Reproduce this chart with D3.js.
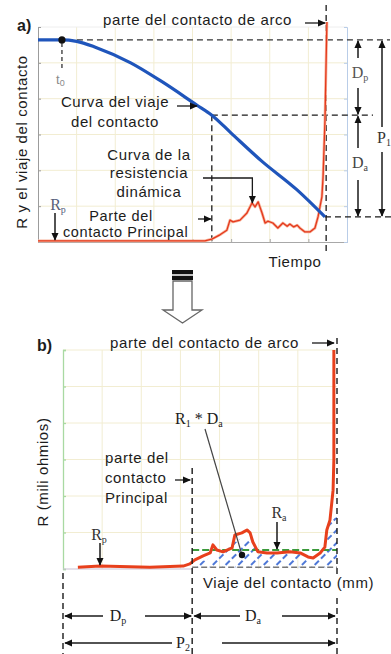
<!DOCTYPE html>
<html><head><meta charset="utf-8">
<script src="https://cdn.jsdelivr.net/npm/d3@7"></script>
<style>
body{margin:0;background:#fff}
svg{display:block}
text{font-family:"Liberation Sans",Arial,sans-serif;fill:#1c1c1c}
.lab{font-size:15px;letter-spacing:0.6px}
.ser{font-family:"Liberation Serif","DejaVu Serif",serif;font-size:16px}
</style>
</head><body>
<svg id="c" width="391" height="654"></svg>
<script>
// ---------- DATA ----------
// panel a) : contact travel curve vs time
const travelT = [0, 0.6, 1.0, 1.5, 2.4, 3.2, 4.1, 4.5, 5.0, 5.8, 6.7, 7.43];
const travelV = [5.64, 5.64, 5.6, 5.43, 5.0, 4.48, 3.83, 3.54, 3.04, 2.25, 1.46, 0.70];
// panel a) : dynamic resistance vs time
const resTopT = [0, 1.6, 4.32, 4.5, 4.71, 4.89, 4.97, 5.05, 5.23, 5.41, 5.54, 5.62, 5.70, 5.80, 5.88, 5.95, 6.08, 6.21, 6.34, 6.45, 6.52, 6.62, 6.71, 6.78, 6.91, 7.04, 7.17, 7.25, 7.35, 7.38, 7.43, 7.46, 7.48];
const resTopV = [0.03, 0.03, 0.03, 0.08, 0.20, 0.33, 0.61, 0.56, 0.61, 0.81, 1.09, 0.98, 1.12, 0.81, 0.53, 0.58, 0.53, 0.39, 0.53, 0.44, 0.50, 0.42, 0.47, 0.39, 0.28, 0.28, 0.39, 0.70, 1.26, 1.81, 3.4, 5.08, 6.14];
const t0 = 0.62, tSep = 4.5, tArc = 7.46;
const travelStart = 5.64, travelSep = 3.54, travelEnd = 0.70;
const topGridX = [0,1,2,3,4,5,6,7,8];
const topGridY = [0,1,2,3,4,5,6];
// panel b) : resistance vs contact travel
const resBX = [0.38, 0.95, 2.22, 3.07, 3.24, 3.37, 3.58, 3.76, 3.83, 3.93, 4.09, 4.32, 4.39, 4.57, 4.70, 4.78, 4.85, 4.98, 5.21, 5.47, 5.80, 6.06, 6.26, 6.39, 6.57, 6.69, 6.74, 6.82, 6.90, 6.92, 6.92];
const resBV = [0.05, 0.08, 0.05, 0.08, 0.14, 0.25, 0.36, 0.44, 0.66, 0.52, 0.47, 0.58, 0.93, 0.99, 1.07, 0.99, 0.74, 0.47, 0.44, 0.44, 0.47, 0.44, 0.33, 0.30, 0.44, 0.60, 1.07, 1.34, 2.16, 2.99, 6.0];
const hatchX = [3.30, 3.76, 4.34, 4.73, 4.83, 4.98, 5.21, 6.06, 6.23, 6.39, 6.62, 6.69, 6.74, 7.0];
const hatchV = [0.11, 0.30, 0.71, 0.93, 0.85, 0.52, 0.44, 0.41, 0.30, 0.19, 0.38, 0.66, 1.34, 1.42];
const hatchBase = 0.05, raLevel = 0.52, xSep = 3.3, xArc = 7.0;
const botGridX = [0,1,2,3,4,5,6,7];
const botGridY = [0,1,2,3,4,5,6];

// ---------- SETUP ----------
const svg = d3.select('#c');
const defs = svg.append('defs');
defs.append('marker').attr('id','ah').attr('viewBox','0 0 10 10').attr('refX',9).attr('refY',5)
  .attr('markerUnits','userSpaceOnUse').attr('markerWidth',8).attr('markerHeight',8).attr('orient','auto')
  .append('path').attr('d','M0,0.5 L10,5 L0,9.5 z').attr('fill','#111');
const pat = defs.append('pattern').attr('id','hatch').attr('patternUnits','userSpaceOnUse')
  .attr('width',9).attr('height',9).attr('patternTransform','rotate(45)');
pat.append('line').attr('x1',1).attr('y1',0).attr('x2',1).attr('y2',9)
  .attr('stroke','#2d5fd0').attr('stroke-width',1.7).attr('stroke-dasharray','6,3');

const xT = d3.scaleLinear([0,8],[38,347]);
const yT = d3.scaleLinear([0,6],[242,27]);
const xB = d3.scaleLinear([0,7],[63,337]);
const yB = d3.scaleLinear([0,6],[569,350]);

function line(g,x1,y1,x2,y2,o={}){
  const l=g.append('line').attr('x1',x1).attr('y1',y1).attr('x2',x2).attr('y2',y2)
   .attr('stroke',o.c||'#1a1a1a').attr('stroke-width',o.w||1.3);
  if(o.dash) l.attr('stroke-dasharray',o.dash);
  if(o.arrow) l.attr('marker-end','url(#ah)');
  return l;
}
const DASH='6,4';
function txt(g,x,y,s,o={}){
  const t=g.append('text').attr('x',x).attr('y',y).attr('class',o.cls||'lab')
    .attr('text-anchor',o.anchor||'start').text(s);
  if(o.size) t.style('font-size',o.size+'px');
  return t;
}
function subLabel(g,x,y,parts,o={}){
  const t=g.append('text').attr('x',x).attr('y',y).attr('class','ser').attr('text-anchor',o.anchor||'middle');
  if(o.fill) t.style('fill',o.fill);
  let prevSub=false;
  parts.forEach(([s,isSub])=>{
    const ts=t.append('tspan').text(s);
    if(isSub){ts.attr('font-size',10).attr('dy',prevSub?0:3);}
    else {ts.attr('dy',prevSub?-3:0);}
    prevSub=isSub;
  });
  return t;
}

// ---------- PANEL a ----------
const A = svg.append('g');
A.append('g').selectAll('line').data(topGridX.slice(1,-1)).join('line')
  .attr('x1',d=>xT(d)).attr('x2',d=>xT(d)).attr('y1',yT(6)).attr('y2',yT(0)).attr('stroke','#f2edd2');
A.append('g').selectAll('line').data(topGridY.slice(1,-1)).join('line')
  .attr('y1',d=>yT(d)).attr('y2',d=>yT(d)).attr('x1',xT(0)).attr('x2',xT(8)).attr('stroke','#f2edd2');
line(A,xT(0),yT(6),xT(8),yT(6),{c:'#eeeeee',w:1});
A.append('g').attr('transform',`translate(${xT(0)},0)`)
  .call(d3.axisLeft(yT).tickValues(topGridY).tickSize(-3).tickFormat(''))
  .call(g=>{g.selectAll('path,line').attr('stroke','#9c9c9c');});
A.append('g').attr('transform',`translate(0,${yT(0)})`)
  .call(d3.axisBottom(xT).tickValues(topGridX).tickSize(-3).tickFormat(''))
  .call(g=>{g.selectAll('path,line').attr('stroke','#a8a8a8');});
A.append('g').attr('transform',`translate(${xT(8)},0)`)
  .call(d3.axisRight(yT).tickValues(topGridY).tickSize(-3).tickFormat(''))
  .call(g=>{g.selectAll('path,line').attr('stroke','#b9cde8');});

// dashed guides
line(A,xT(t0)+5,yT(travelStart),390,yT(travelStart),{dash:DASH,c:'#333'});
line(A,xT(t0),yT(travelStart)+3,xT(t0),68,{dash:'4,3',c:'#333'});
line(A,xT(tSep),yT(travelSep),373,yT(travelSep),{dash:DASH});
line(A,xT(tSep),yT(travelSep),xT(tSep),yT(0),{dash:DASH});
line(A,xT(7.43),yT(travelEnd),391,yT(travelEnd),{dash:DASH});
line(A,xT(tArc),5,xT(tArc),251,{dash:DASH});

// resistance curve (top)
const resTop = resTopT.map((t,i)=>[t,resTopV[i]]);
const lT = d3.line().x(d=>xT(d[0])).y(d=>yT(d[1]));
A.append('path').attr('d',lT(resTop)).attr('fill','none').attr('stroke','#f7b29a').attr('stroke-width',2.8).attr('stroke-linejoin','round');
A.append('path').attr('d',lT(resTop)).attr('fill','none').attr('stroke','#e4381c').attr('stroke-width',1.3).attr('stroke-linejoin','round');
// travel curve
const travel = travelT.map((t,i)=>[t,travelV[i]]);
A.append('path').attr('d',d3.line().x(d=>xT(d[0])).y(d=>yT(d[1])).curve(d3.curveMonotoneX)(travel)).attr('fill','none')
  .attr('stroke','#1f55bb').attr('stroke-width',3.2);
A.append('circle').attr('cx',xT(t0)).attr('cy',yT(travelStart)).attr('r',3.6).attr('fill','#111');

// texts
A.append('text').attr('x',17).attr('y',31).attr('font-size',16).attr('font-weight','bold').text('a)');
txt(A,103,25,'parte del contacto de arco');
line(A,305,23,xT(tArc)-1,23,{arrow:true});
A.append('text').attr('class','lab').attr('transform','translate(27,142) rotate(-90)')
  .attr('text-anchor','middle').text('R y el viaje del contacto');
A.append('text').attr('x',56).attr('y',84).attr('font-size',13).style('fill','#8a8a8a').text('t')
  .append('tspan').attr('font-size',9).attr('dy',2).text('0');
txt(A,115,107,'Curva del viaje',{anchor:'middle'});
txt(A,115,127,'del contacto',{anchor:'middle'});
line(A,177,106,197,106,{arrow:true});
txt(A,149,160,'Curva de la',{anchor:'middle'});
txt(A,149,178,'resistencia',{anchor:'middle'});
txt(A,149,197,'dinámica',{anchor:'middle'});
A.append('polyline').attr('points',`203,178 ${xT(5.55)},178 ${xT(5.55)},203`).attr('fill','none')
  .attr('stroke','#1a1a1a').attr('stroke-width',1.3).attr('marker-end','url(#ah)');
txt(A,121,221,'Parte del',{anchor:'middle',size:14.5});
txt(A,63,237,'contacto Principal',{size:14.5});
line(A,198,219,xT(tSep)-1,219,{arrow:true});
subLabel(A,58,210,[['R',false],['p',true]],{fill:'#56607a'});
line(A,55,213,55,240,{arrow:true,w:1.5});
txt(A,295,267,'Tiempo',{anchor:'middle'});

// Dp / Da / P1 arrows
subLabel(A,360,78,[['D',false],['p',true]],{fill:'#555'});
line(A,358,58,358,yT(travelStart)+1,{arrow:true,w:1.5});
line(A,358,88,358,yT(travelSep)-1,{arrow:true,w:1.5});
subLabel(A,360,168,[['D',false],['a',true]],{fill:'#444'});
line(A,358,148,358,yT(travelSep)+1,{arrow:true,w:1.5});
line(A,358,180,358,yT(travelEnd)-1,{arrow:true,w:1.5});
subLabel(A,384,143,[['P',false],['1',true]],{fill:'#333'});
line(A,382,127,382,yT(travelStart)+1,{arrow:true,w:1.5});
line(A,382,152,382,yT(travelEnd)-1,{arrow:true,w:1.5});

// ---------- block arrow ----------
const BA = svg.append('g');
BA.append('rect').attr('x',172).attr('y',270).attr('width',21).attr('height',10).attr('fill','#111');
BA.append('line').attr('x1',172).attr('x2',193).attr('y1',275).attr('y2',275).attr('stroke','#fff').attr('stroke-width',1.5);
BA.append('path').attr('d','M173,281 L192,281 L192,310 L202,310 L182.5,323 L163,310 L173,310 Z')
  .attr('fill','#fff').attr('stroke','#666').attr('stroke-width',1.3);

// ---------- PANEL b ----------
const B = svg.append('g');
B.append('g').selectAll('line').data(botGridX.slice(1,-1)).join('line')
  .attr('x1',d=>xB(d)).attr('x2',d=>xB(d)).attr('y1',yB(6)).attr('y2',yB(0)).attr('stroke','#f2edd2');
B.append('g').selectAll('line').data(botGridY.slice(1)).join('line')
  .attr('y1',d=>yB(d)).attr('y2',d=>yB(d)).attr('x1',xB(0)).attr('x2',xB(7)).attr('stroke','#f2edd2');
B.append('g').attr('transform',`translate(${xB(0)},0)`)
  .call(d3.axisLeft(yB).tickValues(botGridY).tickSize(-3).tickFormat(''))
  .call(g=>{g.selectAll('path,line').attr('stroke','#a9d9a2').attr('stroke-width',1.3);});
line(B,xB(0),yB(0),xB(xSep),yB(0),{c:'#c9c2d4',w:1.2});

// hatched area
const hatch = hatchX.map((x,i)=>[x,hatchV[i]]);
B.append('path').attr('d',d3.area().x(d=>xB(d[0])).y0(yB(hatchBase)).y1(d=>yB(d[1]))(hatch))
  .attr('fill','url(#hatch)');
line(B,xB(xSep),yB(hatchBase),xB(xArc),yB(hatchBase),{dash:'6,3',c:'#777',w:1.6});
line(B,xB(xSep),yB(raLevel),xB(xArc),yB(raLevel),{dash:'7,3',c:'#3b9a3b',w:2.2});
const resB = resBX.map((x,i)=>[x,resBV[i]]);
B.append('path').attr('d',d3.line().x(d=>xB(d[0])).y(d=>yB(d[1]))(resB)).attr('fill','none')
  .attr('stroke','#e8401c').attr('stroke-width',3).attr('stroke-linejoin','round');

// dashed verticals
line(B,xB(0),573,xB(0),654,{dash:DASH,w:1.4});
line(B,xB(xSep),468,xB(xSep),654,{dash:DASH,w:1.4});
line(B,xB(xArc),338,xB(xArc),575,{dash:DASH,w:1.4});
line(B,xB(xArc),598,xB(xArc),654,{dash:DASH,w:1.4});

// texts
B.append('text').attr('x',37).attr('y',351).attr('font-size',16).attr('font-weight','bold').text('b)');
txt(B,110,348,'parte del contacto de arco');
line(B,312,343,xB(xArc)-3,343,{arrow:true});
B.append('text').attr('class','lab').attr('transform','translate(48,472) rotate(-90)')
  .attr('text-anchor','middle').text('R (mili ohmios)');
subLabel(B,175,424,[['R',false],['1',true],[' * D',false],['a',true]],{anchor:'start'});
line(B,205,429,242,555,{c:'#444',w:1.2});
B.append('circle').attr('cx',242).attr('cy',555).attr('r',3.2).attr('fill','#111');
txt(B,105,463,'parte del');
txt(B,105,483,'contacto');
txt(B,105,503,'Principal');
line(B,175,480,xB(xSep)-2,480,{arrow:true});
subLabel(B,279,518,[['R',false],['a',true]],{fill:'#333'});
line(B,277,522,277,yB(raLevel)-1,{arrow:true,w:1.5});
subLabel(B,99,540,[['R',false],['p',true]],{fill:'#333'});
line(B,100,543,100,565,{arrow:true,w:1.5});
txt(B,203,588,'Viaje del contacto (mm)');

subLabel(B,118,621,[['D',false],['p',true]]);
line(B,103,616,xB(0)+2,616,{arrow:true,w:1.5});
line(B,145,616,xB(xSep)-1,616,{arrow:true,w:1.5});
subLabel(B,253,621,[['D',false],['a',true]]);
line(B,240,616,xB(xSep)+2,616,{arrow:true,w:1.5});
line(B,282,616,xB(xArc)-2,616,{arrow:true,w:1.5});
subLabel(B,183,648,[['P',false],['2',true]]);
line(B,172,643,xB(0)+2,643,{arrow:true,w:1.5});
line(B,222,643,xB(xArc)-2,643,{arrow:true,w:1.5});
</script>
</body></html>
